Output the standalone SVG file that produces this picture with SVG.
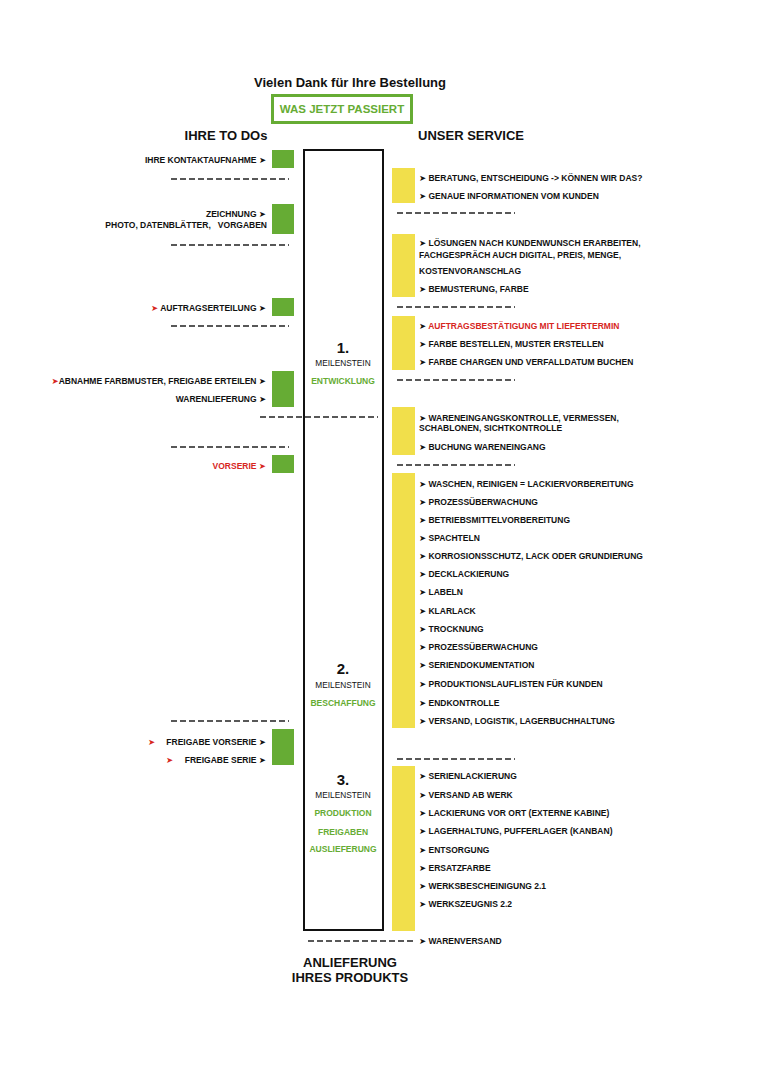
<svg xmlns="http://www.w3.org/2000/svg" width="761" height="1080" viewBox="0 0 761 1080">
<style>
.t{font-family:"Liberation Sans","DejaVu Sans",sans-serif;font-weight:bold;font-size:8.5px;fill:#111}
.h{font-family:"Liberation Sans","DejaVu Sans",sans-serif;font-weight:bold;fill:#111}
.m{font-family:"Liberation Sans","DejaVu Sans",sans-serif;font-size:8.3px;fill:#111}
.red{fill:#D7261E}
.grn{fill:#66AC34}
.gsq{fill:#66AC34}
.ybar{fill:#F1DF4B}
.dash{stroke:#222;stroke-width:1.3;stroke-dasharray:6 3;fill:none}
.e{text-anchor:end}
.c{text-anchor:middle}
</style>
<rect width="761" height="1080" fill="#fff"/>

<g id="header">
<text class="h c" x="350" y="87" font-size="13">Vielen Dank für Ihre Bestellung</text>
<rect x="272.5" y="95.5" width="139" height="27" fill="none" stroke="#66AC34" stroke-width="3"/>
<text class="h c grn" x="342" y="113" font-size="11.5">WAS JETZT PASSIERT</text>
<text class="h c" x="226" y="140" font-size="13">IHRE TO DOs</text>
<text class="h c" x="471" y="140" font-size="13">UNSER SERVICE</text>
</g>

<g id="connectors">
<line class="dash" x1="171" y1="179" x2="289" y2="179"/>
<line class="dash" x1="171" y1="245" x2="289" y2="245"/>
<line class="dash" x1="171" y1="326" x2="289" y2="326"/>
<line class="dash" x1="171" y1="447" x2="289" y2="447"/>
<line class="dash" x1="171" y1="721" x2="289" y2="721"/>
<line class="dash" x1="397" y1="213" x2="515" y2="213"/>
<line class="dash" x1="397" y1="307" x2="515" y2="307"/>
<line class="dash" x1="397" y1="380" x2="515" y2="380"/>
<line class="dash" x1="397" y1="465" x2="515" y2="465"/>
<line class="dash" x1="397" y1="759" x2="515" y2="759"/>
<line class="dash" x1="260" y1="417" x2="378" y2="417"/>
<line class="dash" x1="308" y1="941" x2="416" y2="941"/>
</g>

<g id="timeline">
<rect x="304" y="150" width="79" height="780" fill="none" stroke="#111" stroke-width="2"/>
</g>

<g id="milestone-1">
<text class="h c" x="343" y="353" font-size="15">1.</text>
<text class="m c" x="343" y="366">MEILENSTEIN</text>
<text class="t c grn" x="343" y="384">ENTWICKLUNG</text>
</g>
<g id="milestone-2">
<text class="h c" x="343" y="674" font-size="15">2.</text>
<text class="m c" x="343" y="688">MEILENSTEIN</text>
<text class="t c grn" x="343" y="706">BESCHAFFUNG</text>
</g>
<g id="milestone-3">
<text class="h c" x="343" y="785" font-size="15">3.</text>
<text class="m c" x="343" y="798">MEILENSTEIN</text>
<text class="t c grn" x="343" y="816">PRODUKTION</text>
<text class="t c grn" x="343" y="835">FREIGABEN</text>
<text class="t c grn" x="343" y="852">AUSLIEFERUNG</text>
</g>

<g id="todo-kontakt">
<rect class="gsq" x="272" y="150" width="22" height="18"/>
<text class="t e" x="266" y="163">IHRE KONTAKTAUFNAHME ➤</text>
</g>
<g id="todo-zeichnung">
<rect class="gsq" x="272" y="204" width="22" height="30"/>
<text class="t e" x="266" y="217">ZEICHNUNG ➤</text>
<text class="t e" x="267" y="228" xml:space="preserve">PHOTO, DATENBLÄTTER,   VORGABEN</text>
</g>
<g id="todo-auftrag">
<rect class="gsq" x="272" y="298" width="22" height="18"/>
<text class="t e" x="266" y="311"><tspan class="red">➤</tspan> AUFTRAGSERTEILUNG ➤</text>
</g>
<g id="todo-abnahme">
<rect class="gsq" x="272" y="371" width="22" height="36"/>
<text class="t e" x="266" y="384"><tspan class="red">➤</tspan>ABNAHME FARBMUSTER, FREIGABE ERTEILEN ➤</text>
<text class="t e" x="266" y="402">WARENLIEFERUNG ➤</text>
</g>
<g id="todo-vorserie">
<rect class="gsq" x="272" y="455" width="22" height="18"/>
<text class="t e red" x="266" y="469">VORSERIE ➤</text>
</g>
<g id="todo-freigabe">
<rect class="gsq" x="272" y="729" width="22" height="36"/>
<text class="t red" x="148" y="745">➤</text>
<text class="t e" x="266" y="745">FREIGABE VORSERIE ➤</text>
<text class="t red" x="166" y="763">➤</text>
<text class="t e" x="266" y="763">FREIGABE SERIE ➤</text>
</g>

<g id="service-beratung">
<rect class="ybar" x="392" y="168" width="23" height="35"/>
<text class="t" x="419" y="181">➤ BERATUNG, ENTSCHEIDUNG -&gt; KÖNNEN WIR DAS?</text>
<text class="t" x="419" y="199">➤ GENAUE INFORMATIONEN VOM KUNDEN</text>
</g>
<g id="service-loesungen">
<rect class="ybar" x="392" y="234" width="23" height="63"/>
<text class="t" x="419" y="246">➤ LÖSUNGEN NACH KUNDENWUNSCH ERARBEITEN,</text>
<text class="t" x="419" y="258">FACHGESPRÄCH AUCH DIGITAL, PREIS, MENGE,</text>
<text class="t" x="419" y="274">KOSTENVORANSCHLAG</text>
<text class="t" x="419" y="292">➤ BEMUSTERUNG, FARBE</text>
</g>
<g id="service-auftrag">
<rect class="ybar" x="392" y="316" width="23" height="54"/>
<text class="t" x="419" y="329">➤ <tspan class="red">AUFTRAGSBESTÄTIGUNG MIT LIEFERTERMIN</tspan></text>
<text class="t" x="419" y="347">➤ FARBE BESTELLEN, MUSTER ERSTELLEN</text>
<text class="t" x="419" y="365">➤ FARBE CHARGEN UND VERFALLDATUM BUCHEN</text>
</g>
<g id="service-wareneingang">
<rect class="ybar" x="392" y="407" width="23" height="48"/>
<text class="t" x="419" y="421">➤ WARENEINGANGSKONTROLLE, VERMESSEN,</text>
<text class="t" x="419" y="431">SCHABLONEN, SICHTKONTROLLE</text>
<text class="t" x="419" y="450">➤ BUCHUNG WARENEINGANG</text>
</g>
<g id="service-produktion">
<rect class="ybar" x="392" y="473" width="23" height="255"/>
<text class="t" x="419" y="487">➤ WASCHEN, REINIGEN = LACKIERVORBEREITUNG</text>
<text class="t" x="419" y="505">➤ PROZESSÜBERWACHUNG</text>
<text class="t" x="419" y="523">➤ BETRIEBSMITTELVORBEREITUNG</text>
<text class="t" x="419" y="541">➤ SPACHTELN</text>
<text class="t" x="419" y="559">➤ KORROSIONSSCHUTZ, LACK ODER GRUNDIERUNG</text>
<text class="t" x="419" y="577">➤ DECKLACKIERUNG</text>
<text class="t" x="419" y="595">➤ LABELN</text>
<text class="t" x="419" y="614">➤ KLARLACK</text>
<text class="t" x="419" y="632">➤ TROCKNUNG</text>
<text class="t" x="419" y="650">➤ PROZESSÜBERWACHUNG</text>
<text class="t" x="419" y="668">➤ SERIENDOKUMENTATION</text>
<text class="t" x="419" y="687">➤ PRODUKTIONSLAUFLISTEN FÜR KUNDEN</text>
<text class="t" x="419" y="706">➤ ENDKONTROLLE</text>
<text class="t" x="419" y="724">➤ VERSAND, LOGISTIK, LAGERBUCHHALTUNG</text>
</g>
<g id="service-serie">
<rect class="ybar" x="392" y="766" width="23" height="165"/>
<text class="t" x="419" y="779">➤ SERIENLACKIERUNG</text>
<text class="t" x="419" y="798">➤ VERSAND AB WERK</text>
<text class="t" x="419" y="816">➤ LACKIERUNG VOR ORT (EXTERNE KABINE)</text>
<text class="t" x="419" y="834">➤ LAGERHALTUNG, PUFFERLAGER (KANBAN)</text>
<text class="t" x="419" y="853">➤ ENTSORGUNG</text>
<text class="t" x="419" y="871">➤ ERSATZFARBE</text>
<text class="t" x="419" y="889">➤ WERKSBESCHEINIGUNG 2.1</text>
<text class="t" x="419" y="907">➤ WERKSZEUGNIS 2.2</text>
</g>
<g id="versand">
<text class="t" x="419" y="944">➤ WARENVERSAND</text>
</g>
<g id="anlieferung">
<text class="h c" x="350" y="967" font-size="13">ANLIEFERUNG</text>
<text class="h c" x="350" y="982" font-size="13">IHRES PRODUKTS</text>
</g>
</svg>
